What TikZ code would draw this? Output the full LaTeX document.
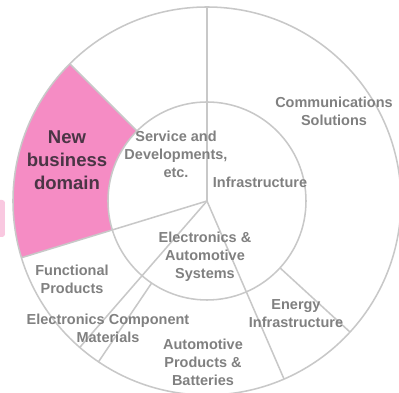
\documentclass[tikz,border=0pt]{standalone}
\usepackage{fontspec}
\setmainfont{Liberation Sans}
\definecolor{ringgray}{HTML}{C8C8C8}
\definecolor{labelgray}{HTML}{808080}
\definecolor{newpink}{HTML}{F58CC4}
\definecolor{tabpink}{HTML}{F9C8E0}
\definecolor{newtext}{HTML}{4A3545}
\begin{document}
\begin{tikzpicture}[
    ring/.style={draw=ringgray, line width=1.1pt},
    seglabel/.style={align=center, text=labelgray, font=\fontsize{10.3}{12.8}\selectfont\bfseries, inner sep=0pt},
    newlabel/.style={align=center, text=newtext, font=\fontsize{13.2}{16.3}\selectfont\bfseries, inner sep=0pt}
]
    \useasboundingbox (-5.175,-4.8) rectangle (4.8,5.025);
    \def\ro{4.85}
    \def\ri{2.475}
    \coordinate (c) at (0,0);
    % pink tab on the left edge and the new sector
    \fill[tabpink, rounded corners=2pt] (-5.4,0.025) rectangle (-5.05,-0.9);
    \fill[newpink] (135:\ro) arc[start angle=135, end angle=197, radius=\ro] -- (197:\ri) arc[start angle=197, end angle=135, radius=\ri] -- cycle;
    % rings and dividers
    \draw[ring] (c) circle[radius=\ro];
    \draw[ring] (c) circle[radius=\ri];
    \draw[ring] (c) -- (90:\ro);
    \draw[ring] (135:\ri) -- (135:\ro);
    \draw[ring] (c) -- (197:\ro);
    \draw[ring] (c) -- (229:\ro);
    \draw[ring] (236:\ri) -- (236:\ro);
    \draw[ring] (c) -- (293.4:\ro);
    \draw[ring] (317.5:\ri) -- (317.5:\ro);
    % labels
    \node[seglabel] at (3.175,2.25) (comm) {Communications\\Solutions};
    \node[seglabel] at (-0.775,1.175) (service) {Service and\\Developments,\\etc.};
    \node[seglabel] at (1.325,0.475) (infra) {Infrastructure};
    \node[newlabel] at (-3.5,1.025) (newbiz) {New\\business\\domain};
    \node[seglabel] at (-0.05,-1.4) (elecauto) {Electronics \&\\Automotive\\Systems};
    \node[seglabel] at (-3.375,-1.95) (func) {Functional\\Products};
    \node[seglabel] at (-2.475,-3.175) (ecm) {Electronics Component\\Materials};
    \node[seglabel] at (-0.1,-4.025) (autoprod) {Automotive\\Products \&\\Batteries};
    \node[seglabel] at (2.225,-2.825) (energy) {Energy\\Infrastructure};
\end{tikzpicture}
\end{document}
